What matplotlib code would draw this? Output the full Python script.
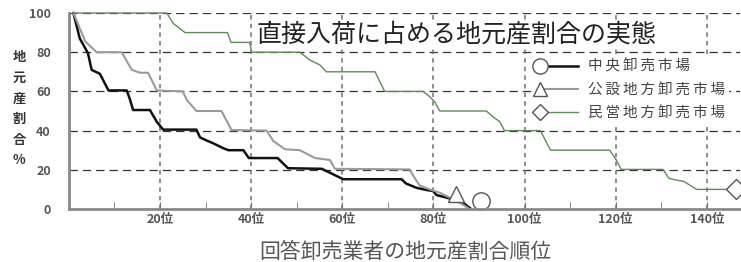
import matplotlib
matplotlib.use('Agg')
import matplotlib.pyplot as plt
from matplotlib.lines import Line2D
from matplotlib.legend_handler import HandlerLine2D
from matplotlib.ticker import MultipleLocator

plt.rcParams['font.family'] = ['Noto Sans CJK JP', 'DejaVu Sans']
plt.rcParams['lines.scale_dashes'] = False

# 中央卸売市場 (rank, share %)
chuo_x = [1, 2.4, 4.2, 5, 6.8, 8.7, 12.7, 13.4, 14.1, 17.8, 19.3, 20.7, 28, 28.8, 30.2, 31.7,
          33.9, 35, 38.3, 39.5, 45.8, 47, 48.1, 55.5, 57.3, 60.2, 73, 74, 76.3, 78.5, 79.9,
          80.7, 82.9, 86.5, 88]
chuo_y = [100, 87, 79.5, 71, 69, 60.5, 60.5, 56, 50.5, 50.5, 44.5, 40.5, 40.5, 36.5, 35, 33.5,
          31, 30, 30, 26, 26, 23.3, 20.8, 20.5, 18.5, 15.2, 15.2, 13, 10.8, 9.7, 9.2,
          7.1, 5.8, 3.2, 0.5]

# 公設地方卸売市場
kosetsu_x = [1, 3.6, 6.1, 11.6, 13.8, 15.6, 17.4, 19.3, 25, 25.9, 28, 33.5, 35.7, 43.4, 44.9,
             47.4, 50.7, 54, 57.3, 58.4, 74.8, 75.9, 77, 79.2, 81.4, 83.6, 85.8, 87.6]
kosetsu_y = [100, 85.5, 80, 80, 71, 69.5, 69.5, 60.5, 60, 55.6, 50, 50, 40.3, 40, 34.6,
             30.5, 30, 26, 25, 20.5, 20.2, 15.8, 12, 10, 8.3, 5.8, 3.2, 0.5]

# 民営地方卸売市場
minei_x = [1, 21.5, 22.9, 25.5, 34.8, 35.6, 39.7, 40.1, 50.7, 52.9, 55.1, 56.5, 67.2, 69.3,
           77.7, 79.2, 80.3, 81.4, 91.6, 93.1, 94.6, 95.6, 103.5, 105.7, 118.7, 120.1, 121.2,
           130.4, 131.7, 135, 137.8, 146.5]
minei_y = [100, 100, 94.7, 90, 90, 85, 85, 80, 80, 76, 73.5, 70, 70, 60,
           60, 57.3, 54.7, 50, 50, 47, 44.5, 40, 40, 30, 30, 25.2, 20.2,
           20.2, 15.6, 14, 10, 10]

# end markers
mark_x = [90.5, 85, 146.5]
mark_y = [4, 7.5, 10]

names = ['中央卸売市場', '公設地方卸売市場', '民営地方卸売市場']
xtick_vals = [20, 40, 60, 80, 100, 120, 140]
xtick_labels = ['20位', '40位', '60位', '80位', '100位', '120位', '140位']
ytick_vals = [0, 20, 40, 60, 80, 100]

colors = ['#111111', '#9a9a9a', '#5e8c56']
widths = [1.8, 1.5, 1.0]
markers = ['o', '^', 'D']
msizes = [12.5, 12, 10]


class LeftMarkerHandler(HandlerLine2D):
    # marker sits at the left end of the legend line
    def create_artists(self, legend, orig_handle, xdescent, ydescent, width, height, fontsize, trans):
        y = (height - ydescent) / 2
        line = Line2D([-xdescent, -xdescent + width], [y, y])
        self.update_prop(line, orig_handle, legend)
        line.set_marker('None')
        mark = Line2D([-xdescent], [y])
        self.update_prop(mark, orig_handle, legend)
        mark.set_linestyle('None')
        line.set_transform(trans)
        mark.set_transform(trans)
        return [line, mark]


fig = plt.figure(figsize=(7.41, 2.62), dpi=100)
ax = fig.add_axes([0.0929, 0.2023, 0.9058, 0.7481])

ax.set_xlim(0, 147.3)
ax.set_ylim(0, 100)

for y in ytick_vals[1:]:
    ax.axhline(y, color='#333333', lw=0.9, dashes=(6, 3.6), zorder=1)
for x in xtick_vals:
    ax.axvline(x, color='#707070', lw=1.1, dashes=(3.2, 3), zorder=1)

xs = [chuo_x, kosetsu_x, minei_x]
ys = [chuo_y, kosetsu_y, minei_y]
handles = []
for i in range(3):
    ax.plot(xs[i], ys[i], color=colors[i], lw=widths[i], zorder=3, clip_on=False)
    ax.plot([mark_x[i]], [mark_y[i]], linestyle='None', marker=markers[i], ms=msizes[i],
            mfc='white', mec='#555555', mew=1.0, zorder=4, clip_on=False)
    handles.append(Line2D([], [], color=colors[i], lw=widths[i], marker=markers[i],
                          ms=msizes[i] - 1.5, mfc='white', mec='#555555', mew=1.0))

ax.set_xticks(xtick_vals)
ax.set_xticklabels(xtick_labels)
ax.xaxis.set_minor_locator(MultipleLocator(10))
ax.tick_params(axis='x', which='both', direction='in', length=5, color='#777777',
               labelsize=9, labelcolor='#555555', pad=3)
ax.set_yticks(ytick_vals)
ax.tick_params(axis='y', length=0, labelsize=9, labelcolor='#555555', pad=13)
for lab in ax.get_xticklabels() + ax.get_yticklabels():
    lab.set_fontweight('bold')

for s in ['top', 'right']:
    ax.spines[s].set_visible(False)
for s in ['left', 'bottom']:
    ax.spines[s].set_color('#8a8a8a')
    ax.spines[s].set_linewidth(2)
    ax.spines[s].set_zorder(5)

ax.text(0.577, 0.89, '直接入荷に占める地元産割合の実態', transform=ax.transAxes,
        ha='center', va='center', fontsize=18, color='#222222', zorder=6,
        bbox=dict(facecolor='white', edgecolor='none', pad=1))

thin = '\u2009'
leg = ax.legend(handles, [thin.join(n) for n in names], handler_map={Line2D: LeftMarkerHandler()},
                loc='upper left', bbox_to_anchor=(0.695, 0.785), borderaxespad=0,
                frameon=True, fancybox=False, edgecolor='none', facecolor='white', framealpha=1,
                handlelength=2.6, handletextpad=0.7, labelspacing=0.62, borderpad=0.3,
                prop={'family': ['Noto Sans CJK JP', 'DejaVu Sans'], 'size': 10.5})
leg.set_zorder(6)
for t in leg.get_texts():
    t.set_color('#444444')

fig.text(0.026, 0.585, '地\n元\n産\n割\n合\n%', ha='center', va='center', fontsize=9.5,
         fontweight='bold', color='#333333', linespacing=1.6)
fig.text(0.547, 0.038, '回答卸売業者の地元産割合順位', ha='center', va='center',
         fontsize=15, color='#555555')

fig.savefig('out.png', dpi=100)
